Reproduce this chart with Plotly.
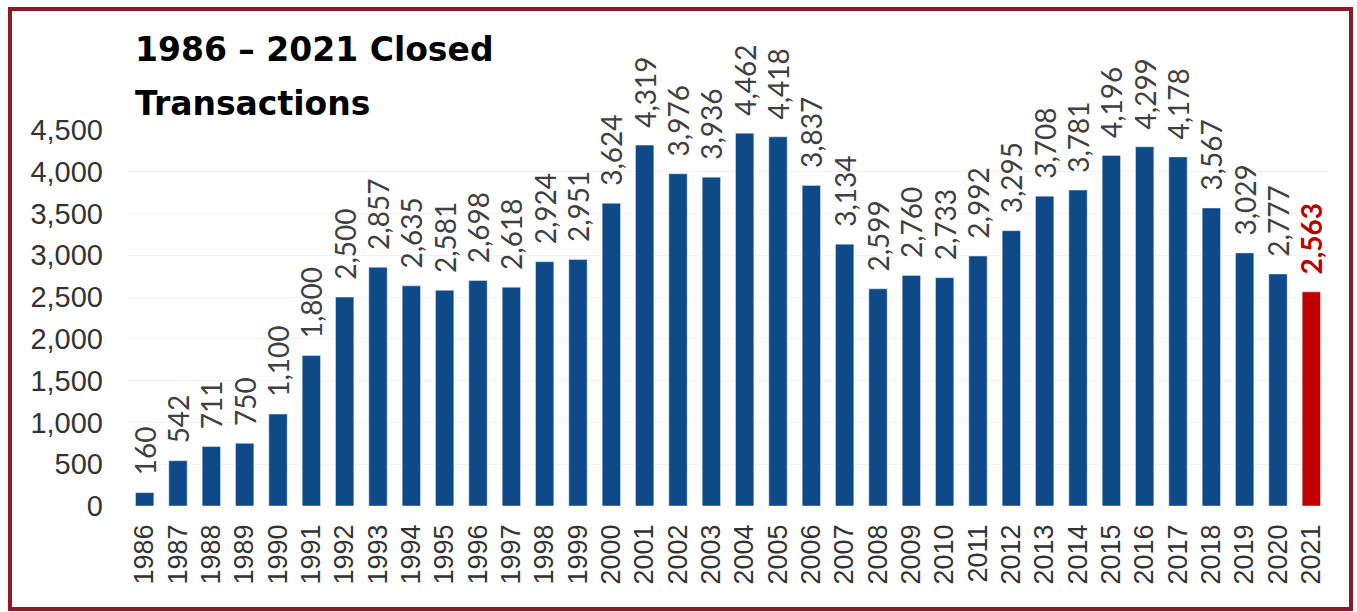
import plotly.graph_objects as go

years = [str(y) for y in range(1986, 2022)]
values = [160, 542, 711, 750, 1100, 1800, 2500, 2857, 2635, 2581, 2698, 2618,
          2924, 2951, 3624, 4319, 3976, 3936, 4462, 4418, 3837, 3134, 2599, 2760,
          2733, 2992, 3295, 3708, 3781, 4196, 4299, 4178, 3567, 3029, 2777, 2563]
y_ticks = [0, 500, 1000, 1500, 2000, 2500, 3000, 3500, 4000, 4500]
title_lines = ["1986 – 2021 Closed", "Transactions"]

navy = "#0e4a87"
red = "#c00000"
colors = [navy] * (len(values) - 1) + [red]
text_colors = ["#404040"] * (len(values) - 1) + [red]
pad = "\u00a0\u00a0"
labels = [pad + f"{v:,}" for v in values]
labels[-1] = pad + f"<b>{values[-1]:,}</b>"

fig = go.Figure(go.Bar(
    x=years, y=values, marker_color=colors, text=labels,
    textposition="outside", textangle=-90, constraintext="none",
    cliponaxis=False,
    textfont=dict(family="Lato", size=28, color=text_colors),
))

L, R, T, B = 128, 29, 130, 106
W, H = 1357, 612
pw, ph = W - L - R, H - T - B

fig.update_layout(
    width=W, height=H, margin=dict(l=L, r=R, t=T, b=B),
    paper_bgcolor="white", plot_bgcolor="white",
    bargap=0.45, showlegend=False,
    xaxis=dict(tickangle=-90, tickfont=dict(family="Liberation Sans", size=27, color="#333333"),
               showgrid=False, showline=False, ticks="", ticklabelstandoff=12),
    yaxis=dict(range=[0, 4500], tickvals=y_ticks, tickformat=",",
               tickfont=dict(family="Liberation Sans", size=29, color="#333333"),
               showgrid=True, gridcolor="#f2f2f2", zeroline=False, showline=False, ticks="",
               ticklabelstandoff=24),
)

fig.add_shape(type="rect", xref="paper", yref="paper",
              x0=(10 - L) / pw, x1=(1351 - L) / pw,
              y0=(H - B - 609) / ph, y1=(H - B - 9) / ph,
              line=dict(color="#8e1a28", width=4))

for i, line in enumerate(title_lines):
    fig.add_annotation(xref="paper", yref="paper", x=(133 - L) / pw,
                       y=(H - B - (64 + 54 * i)) / ph,
                       xanchor="left", yanchor="bottom", align="left", showarrow=False,
                       text="<b>" + line + "</b>", yshift=-7,
                       font=dict(family="DejaVu Sans", size=33, color="black"))

fig.write_html("out.html")
